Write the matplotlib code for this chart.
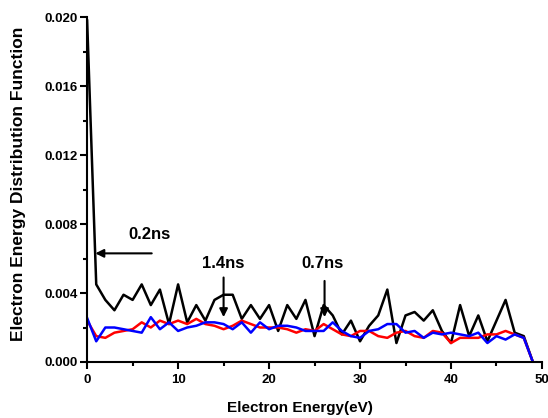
import matplotlib
matplotlib.use("Agg")
import matplotlib.pyplot as plt
from matplotlib.ticker import MultipleLocator

plt.rcParams['font.family'] = ['Liberation Sans', 'DejaVu Sans']
plt.rcParams['font.weight'] = 'bold'

energy = list(range(50))

eedf_02 = [0.0198, 0.0045, 0.0036, 0.0030, 0.0039, 0.0036, 0.0045, 0.0033, 0.0042, 0.0022,
           0.0045, 0.0023, 0.0033, 0.0024, 0.0036, 0.0039, 0.0039, 0.0025, 0.0033, 0.0025,
           0.0033, 0.0018, 0.0033, 0.0025, 0.0036, 0.0015, 0.0033, 0.0027, 0.0016, 0.0024,
           0.0012, 0.0021, 0.0027, 0.0042, 0.0011, 0.0027, 0.0029, 0.0024, 0.0030, 0.0018,
           0.0011, 0.0033, 0.0015, 0.0027, 0.0012, 0.0024, 0.0036, 0.0017, 0.0015, 0.0]

eedf_07 = [0.0024, 0.0015, 0.0014, 0.0017, 0.0018, 0.0019, 0.0023, 0.0020, 0.0024, 0.0022,
           0.0024, 0.0022, 0.0025, 0.0022, 0.0021, 0.0019, 0.0021, 0.0024, 0.0022, 0.0020,
           0.0020, 0.0020, 0.0019, 0.0017, 0.0019, 0.0018, 0.0022, 0.0019, 0.0016, 0.0015,
           0.0018, 0.0018, 0.0015, 0.0014, 0.0017, 0.0018, 0.0015, 0.0014, 0.0018, 0.0017,
           0.0011, 0.0014, 0.0014, 0.0014, 0.0016, 0.0016, 0.0018, 0.0016, 0.0014, 0.0]

eedf_14 = [0.00255, 0.0012, 0.0020, 0.0020, 0.0019, 0.0018, 0.0017, 0.0026, 0.0019, 0.0023,
           0.0018, 0.0020, 0.0021, 0.0023, 0.0023, 0.0022, 0.0019, 0.0023, 0.0017, 0.0023,
           0.0019, 0.0021, 0.0021, 0.0020, 0.0018, 0.0018, 0.0018, 0.0023, 0.0018, 0.0015,
           0.0014, 0.0018, 0.0019, 0.0022, 0.0022, 0.0017, 0.0018, 0.0014, 0.0017, 0.0016,
           0.0017, 0.0016, 0.0015, 0.0017, 0.0011, 0.0015, 0.0013, 0.0016, 0.0014, 0.0]

fig = plt.figure(figsize=(5.48, 4.18), dpi=100)
ax = fig.add_axes([0.159, 0.134, 0.830, 0.825])

ax.plot(energy, eedf_02, color='black', lw=1.8)
ax.plot(energy, eedf_07, color='red', lw=1.8)
ax.plot(energy, eedf_14, color='blue', lw=1.8)

ax.set_xlim(0, 50)
ax.set_ylim(0, 0.020)
ax.xaxis.set_major_locator(MultipleLocator(10))
ax.xaxis.set_minor_locator(MultipleLocator(5))
ax.yaxis.set_major_locator(MultipleLocator(0.004))
ax.yaxis.set_minor_locator(MultipleLocator(0.002))
ax.yaxis.set_major_formatter(plt.FormatStrFormatter('%.3f'))

for side in ['top', 'right']:
    ax.spines[side].set_visible(False)
for side in ['left', 'bottom']:
    ax.spines[side].set_linewidth(1.5)

ax.tick_params(which='major', direction='out', length=5, width=1.5, labelsize=9.5)
ax.tick_params(which='minor', direction='out', length=3, width=1.5)
ax.tick_params(axis='y', which='major', pad=2)

ax.set_xlabel('Electron Energy(eV)', fontsize=11, fontweight='bold')
ax.set_ylabel('Electron Energy Distribution Function', fontsize=12.5, fontweight='bold')
ax.xaxis.set_label_coords(0.468, -0.113)
ax.yaxis.set_label_coords(-0.134, 0.517)

arrow = dict(arrowstyle='-|>', color='black', lw=1.5, mutation_scale=12, shrinkA=0, shrinkB=0)
ax.annotate('', xy=(0.9, 0.0063), xytext=(7.1, 0.0063), arrowprops=arrow)
ax.text(6.9, 0.0074, '0.2ns', ha='center', va='center', fontsize=12, fontweight='bold')

ax.annotate('', xy=(15.0, 0.0026), xytext=(15.0, 0.0049), arrowprops=arrow)
ax.text(15.0, 0.0057, '1.4ns', ha='center', va='center', fontsize=12, fontweight='bold')

ax.annotate('', xy=(26.1, 0.0026), xytext=(26.1, 0.0047), arrowprops=arrow)
ax.text(25.9, 0.0057, '0.7ns', ha='center', va='center', fontsize=12, fontweight='bold')

fig.savefig('out.png', dpi=100)
